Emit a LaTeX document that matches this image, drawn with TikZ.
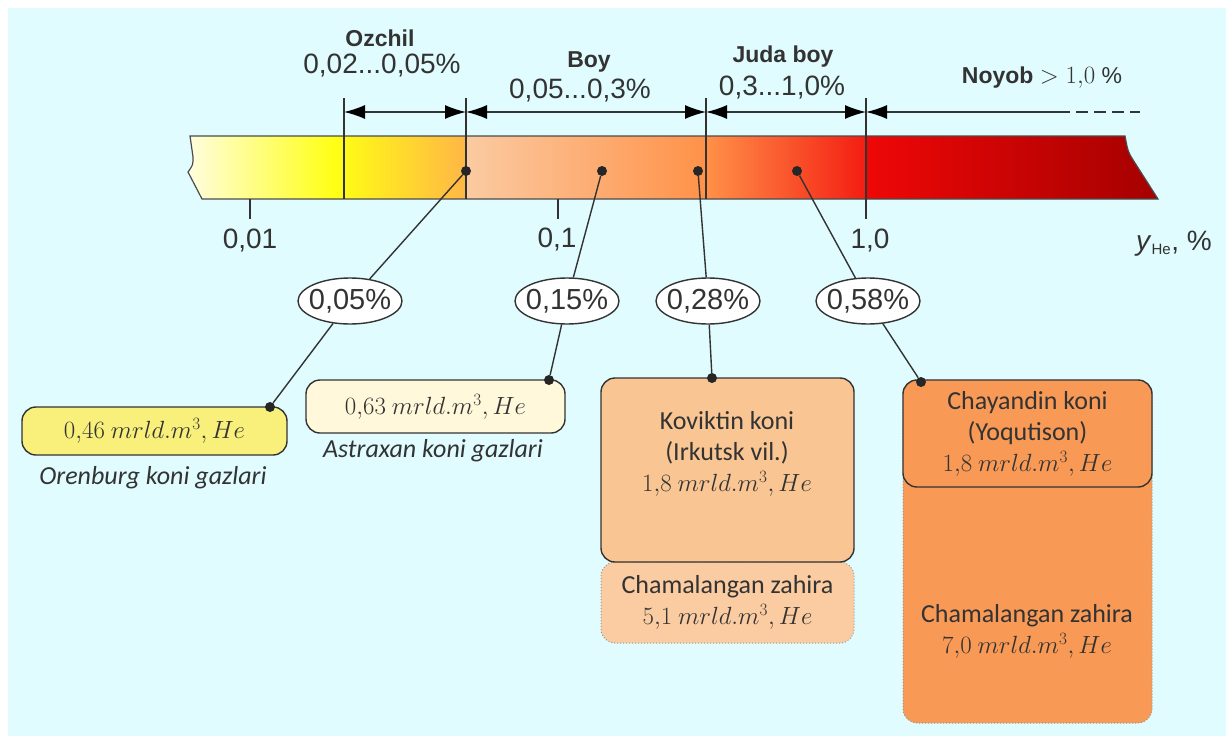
\documentclass[tikz,border=0pt]{standalone}
\usepackage{fontspec}
\setmainfont{Liberation Sans}
\newfontfamily\calibrifont{Carlito}
\usetikzlibrary{calc, arrows.meta, shapes.geometric}

\definecolor{bgcyan}{HTML}{E0FCFE}
\definecolor{inkgray}{HTML}{333333}
\definecolor{barA}{HTML}{FFFDE9}
\definecolor{barB}{HTML}{FFFF14}
\definecolor{barC}{HTML}{FFB646}
\definecolor{barD}{HTML}{FBCBA2}
\definecolor{barE}{HTML}{FF9148}
\definecolor{barF}{HTML}{F41C12}
\definecolor{barG}{HTML}{EF0707}
\definecolor{barH}{HTML}{A30000}
\definecolor{orenfill}{HTML}{F8F07A}
\definecolor{astrfill}{HTML}{FFF8DA}
\definecolor{kovfill}{HTML}{F9C592}
\definecolor{kovres}{HTML}{FBCCA2}
\definecolor{chayfill}{HTML}{F89A56}

\begin{document}
\begin{tikzpicture}[x=1pt, y=-1pt,
    >={Latex[length=21pt, width=14pt, color=black]},
    every node/.style={text=inkgray},
    titlelab/.style={font=\fontsize{23}{26}\selectfont\bfseries},
    rangelab/.style={font=\fontsize{28}{32}\selectfont},
    ticklab/.style={font=\fontsize{28}{32}\selectfont},
    pct/.style={ellipse, draw=inkgray, fill=white, line width=1.4pt,
      minimum width=104pt, minimum height=46pt, inner xsep=-12pt, inner ysep=-8pt,
      font=\fontsize{29}{32}\selectfont},
    dotmark/.style={circle, fill=black!85, inner sep=0pt, minimum size=10pt},
    leader/.style={draw=inkgray, line width=1.4pt},
    dimline/.style={draw=inkgray, line width=1.4pt},
    gasbox/.style={draw=inkgray, line width=1.4pt, rounded corners=14pt, inner sep=0pt,
      font=\calibrifont\fontsize{26}{31}\selectfont, align=center},
    resbox/.style={draw=black!40, line width=1pt, dotted, rounded corners=14pt, inner sep=0pt,
      font=\calibrifont\fontsize{26}{31}\selectfont, align=center},
    boxtext/.style={font=\calibrifont\fontsize{26}{31}\selectfont, align=center},
    captionlab/.style={font=\calibrifont\itshape\fontsize{26}{30}\selectfont}
  ]
  \useasboundingbox (0,0) rectangle (1226,736);
  \fill[white] (0,0) rectangle (1226,736);
  \fill[bgcyan] (8,8) rectangle (1226,736);

  % scale bar
  \begin{scope}
    \clip (190,136) -- (1125,136) .. controls (1128,152) .. (1135,163) -- (1158,199)
      -- (202,199) -- (188,172) .. controls (193,165) .. (193,157) -- cycle;
    \shade[left color=barA, right color=barB] (180,130) rectangle (335,205);
    \shade[left color=barB, right color=barC] (334,130) rectangle (467,205);
    \shade[left color=barD, right color=barE] (466,130) rectangle (707,205);
    \shade[left color=barE, right color=barF] (706,130) rectangle (867,205);
    \shade[left color=barG, right color=barH] (866,130) rectangle (1165,205);
  \end{scope}
  \draw[black!70, line width=1.2pt] (190,136) -- (1125,136) .. controls (1128,152) .. (1135,163) -- (1158,199)
      -- (202,199) -- (188,172) .. controls (193,165) .. (193,157) -- cycle;

  % bounds and ticks
  \draw[dimline] (344,98) -- (344,199);
  \draw[dimline] (466,98) -- (466,199);
  \draw[dimline] (706,98) -- (706,199);
  \draw[dimline] (866,98) -- (866,219);
  \draw[dimline] (250,199) -- (250,219);
  \draw[dimline] (558,199) -- (558,219);

  \coordinate (v1) at (344,112);
  \coordinate (v2) at (466,112);
  \coordinate (v3) at (706,112);
  \coordinate (v4) at (866,112);
  \coordinate (v5) at (1058,112);
  \coordinate (v6) at (1140,112);
  \draw[dimline, <->] (v1) -- (v2);
  \draw[dimline, <->] (v2) -- (v3);
  \draw[dimline, <->] (v3) -- (v4);
  \draw[dimline, <-] (v4) -- (v5);
  \draw[dimline, dash pattern=on 12pt off 6pt] (v5) -- (v6);

  \node[titlelab] (ozchil) at (380,38) {Ozchil};
  \node[rangelab] (ozval) at (382,66) {0,02...0,05\%};
  \node[titlelab] (boy) at (589,62) {Boy};
  \node[rangelab] (boyval) at (580,91) {0,05...0,3\%};
  \node[titlelab] (juda) at (783,57) {Juda boy};
  \node[rangelab] (judaval) at (782,88) {0,3...1,0\%};
  \node[font=\fontsize{23}{26}\selectfont] (noyob) at (1042,78) {\textbf{Noyob} $>1{,}0\ \%$};

  \node[ticklab] (t1) at (250,241) {0,01};
  \node[ticklab] (t2) at (557,240) {0,1};
  \node[ticklab] (t3) at (870,241) {1,0};
  \node[ticklab] (yhe) at (1174,244) {\textit{y}\textsubscript{\fontsize{15}{15}\selectfont He}, \%};

  % points on the bar
  \node[dotmark] (d1) at (466,171) {};
  \node[dotmark] (d2) at (602,171) {};
  \node[dotmark] (d3) at (698,171) {};
  \node[dotmark] (d4) at (797,171) {};

  % deposits
  \node[resbox, fill=kovres, minimum width=253pt, minimum height=81pt] (kovz) at (727.5,602.5)
    {Chamalangan zahira\\$5{,}1\ mrld.m^3, He$};
  \node[gasbox, fill=kovfill, minimum width=253pt, minimum height=184pt] (kov) at (727.5,470) {};
  \node[boxtext] (kovt) at (727,454) {Koviktin koni\\(Irkutsk vil.)\\$1{,}8\ mrld.m^3, He$};

  \node[resbox, fill=chayfill, minimum width=249pt, minimum height=343pt] (chayz) at (1027.5,551.5) {};
  \node[boxtext] (chayzt) at (1027,631) {Chamalangan zahira\\$7{,}0\ mrld.m^3, He$};
  \node[gasbox, fill=chayfill, minimum width=249pt, minimum height=107pt] (chay) at (1027.5,433.5)
    {Chayandin koni\\(Yoqutison)\\$1{,}8\ mrld.m^3, He$};

  \node[gasbox, fill=orenfill, minimum width=265pt, minimum height=48pt] (oren) at (154.5,431)
    {$0{,}46\ mrld.m^3, He$};
  \node[captionlab] (orencap) at (153,478) {Orenburg koni gazlari};
  \node[gasbox, fill=astrfill, minimum width=259pt, minimum height=53pt] (astr) at (435.5,406.5)
    {$0{,}63\ mrld.m^3, He$};
  \node[captionlab] (astrcap) at (433,451) {Astraxan koni gazlari};

  \node[dotmark] (b1) at (270,407) {};
  \node[dotmark] (b2) at (549,380) {};
  \node[dotmark] (b3) at (712,378) {};
  \node[dotmark] (b4) at (921,382) {};

  % concentrations
  \node[pct] (e1) at (350,301) {0,05\%};
  \node[pct] (e2) at (567,301) {0,15\%};
  \node[pct] (e3) at (708,301) {0,28\%};
  \node[pct] (e4) at (868,301) {0,58\%};

  \draw[leader] (d1) -- (e1);
  \draw[leader] (d2) -- (e2);
  \draw[leader] (d3) -- (e3);
  \draw[leader] (d4) -- (e4);
  \draw[leader] (e1) -- (b1);
  \draw[leader] (e2) -- (b2);
  \draw[leader] (e3) -- (b3);
  \draw[leader] (e4) -- (b4);
\end{tikzpicture}
\end{document}
